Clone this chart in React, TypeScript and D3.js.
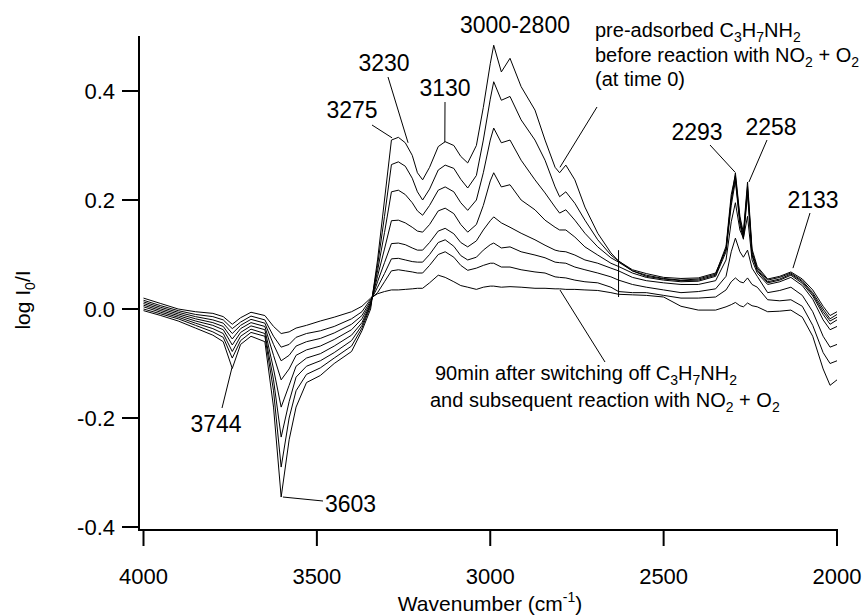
import React from "react";
import * as d3 from "d3";

// wavenumber grid (cm-1), shared by every spectrum
const wavenumbers = [
  4000, 3950, 3900, 3850, 3800, 3770, 3744, 3720, 3690, 3650,
  3625, 3603, 3580, 3560, 3530, 3490, 3450, 3400, 3370, 3345,
  3325, 3305, 3285, 3265, 3245, 3225, 3210, 3195, 3175, 3150,
  3130, 3105, 3085, 3065, 3040, 3020, 3000, 2990, 2968, 2943,
  2911, 2871, 2842, 2813, 2800, 2782, 2756, 2727, 2690, 2652,
  2630, 2590, 2550, 2500, 2450, 2400, 2350, 2320, 2305, 2293,
  2280, 2270, 2258, 2245, 2230, 2200, 2165, 2133, 2100, 2070,
  2040, 2020, 2000,
];

// time 0 (pre-adsorbed C3H7NH2)
const spectrum0 = [
  -0.003, -0.012, -0.022, -0.035, -0.048, -0.06, -0.109, -0.065, -0.05, -0.06,
  -0.18, -0.345, -0.24, -0.18, -0.135, -0.122, -0.1, -0.078, -0.04, 0.0,
  0.09, 0.2, 0.31, 0.315, 0.305, 0.282, 0.25, 0.237, 0.26, 0.298,
  0.307, 0.3, 0.28, 0.268, 0.3, 0.37, 0.45, 0.484, 0.435, 0.46,
  0.408, 0.365, 0.31, 0.26, 0.25, 0.264, 0.237, 0.187, 0.139, 0.103,
  0.088, 0.072, 0.065, 0.058, 0.056, 0.057, 0.066, 0.11, 0.2, 0.25,
  0.17, 0.14, 0.233, 0.11, 0.078, 0.055, 0.06, 0.068, 0.055, 0.035,
  0.005, -0.012, -0.005,
];
const spectrum1 = [
  0.0, -0.009, -0.018, -0.03, -0.042, -0.052, -0.09, -0.058, -0.043, -0.05,
  -0.15, -0.29, -0.2, -0.15, -0.12, -0.108, -0.09, -0.068, -0.035, 0.005,
  0.08, 0.17, 0.265, 0.27, 0.262, 0.24, 0.215, 0.2, 0.22, 0.255,
  0.264, 0.258, 0.238, 0.222, 0.245, 0.31, 0.385, 0.417, 0.383, 0.39,
  0.347, 0.31, 0.273, 0.224, 0.206, 0.215, 0.194, 0.163, 0.127, 0.099,
  0.088, 0.07, 0.062, 0.056, 0.053, 0.055, 0.064, 0.115, 0.21, 0.245,
  0.165, 0.135, 0.225, 0.105, 0.075, 0.053, 0.058, 0.066, 0.052, 0.03,
  0.0, -0.018, -0.01,
];
const spectrum2 = [
  0.004, -0.006, -0.015, -0.026, -0.036, -0.045, -0.078, -0.05, -0.037, -0.045,
  -0.13, -0.235, -0.17, -0.125, -0.105, -0.095, -0.08, -0.058, -0.03, 0.008,
  0.07, 0.14, 0.215, 0.218, 0.21, 0.195, 0.18, 0.172, 0.19, 0.218,
  0.224, 0.215, 0.195, 0.181, 0.2, 0.25, 0.31, 0.332, 0.305, 0.31,
  0.273, 0.237, 0.213, 0.187, 0.176, 0.182, 0.163, 0.139, 0.114, 0.094,
  0.086, 0.07, 0.06, 0.055, 0.052, 0.053, 0.062, 0.11, 0.2, 0.24,
  0.16, 0.132, 0.22, 0.1, 0.072, 0.05, 0.055, 0.064, 0.05, 0.027,
  -0.005, -0.022, -0.015,
];
const spectrum3 = [
  0.007, -0.003, -0.012, -0.022, -0.03, -0.038, -0.066, -0.043, -0.031, -0.038,
  -0.11, -0.18, -0.14, -0.105, -0.09, -0.082, -0.068, -0.048, -0.025, 0.01,
  0.06, 0.11, 0.162, 0.163, 0.158, 0.15, 0.143, 0.141, 0.155, 0.18,
  0.185, 0.175, 0.155, 0.141, 0.155, 0.19, 0.235, 0.25, 0.224, 0.228,
  0.2, 0.182, 0.163, 0.15, 0.145, 0.145, 0.132, 0.114, 0.099, 0.084,
  0.078, 0.066, 0.058, 0.053, 0.05, 0.051, 0.06, 0.105, 0.19, 0.235,
  0.155, 0.128, 0.21, 0.098, 0.07, 0.048, 0.053, 0.062, 0.047, 0.024,
  -0.01, -0.028, -0.02,
];
const spectrum4 = [
  0.01, 0.0, -0.009, -0.018, -0.025, -0.032, -0.055, -0.036, -0.025, -0.032,
  -0.085, -0.13, -0.11, -0.085, -0.075, -0.068, -0.056, -0.038, -0.018, 0.012,
  0.05, 0.085, 0.12, 0.121, 0.118, 0.112, 0.108, 0.108, 0.122, 0.143,
  0.148, 0.138, 0.122, 0.114, 0.125, 0.145, 0.162, 0.169, 0.158, 0.15,
  0.139, 0.127, 0.117, 0.108, 0.106, 0.105, 0.099, 0.09, 0.084, 0.075,
  0.07, 0.058, 0.052, 0.048, 0.045, 0.045, 0.052, 0.09, 0.16, 0.195,
  0.145, 0.13, 0.17, 0.09, 0.066, 0.045, 0.05, 0.058, 0.043, 0.018,
  -0.02, -0.038, -0.032,
];
const spectrum5 = [
  0.013, 0.003, -0.006, -0.014, -0.02, -0.026, -0.045, -0.03, -0.019, -0.026,
  -0.065, -0.095, -0.085, -0.068, -0.06, -0.054, -0.044, -0.028, -0.012, 0.015,
  0.04, 0.065, 0.092, 0.093, 0.09, 0.087, 0.086, 0.086, 0.1, 0.122,
  0.127, 0.115, 0.098, 0.09, 0.095, 0.108, 0.118, 0.121, 0.112, 0.114,
  0.105, 0.099, 0.094, 0.086, 0.085, 0.084, 0.077, 0.072, 0.066, 0.059,
  0.053, 0.045, 0.04, 0.035, 0.03, 0.032, 0.037, 0.06, 0.105, 0.13,
  0.105, 0.095, 0.108, 0.075, 0.06, 0.03, 0.034, 0.04, 0.025, -0.005,
  -0.05, -0.07, -0.065,
];
const spectrum6 = [
  0.016, 0.006, -0.003, -0.01, -0.014, -0.02, -0.036, -0.024, -0.013, -0.02,
  -0.05, -0.07, -0.065, -0.052, -0.045, -0.04, -0.032, -0.018, -0.005, 0.018,
  0.03, 0.05, 0.07, 0.072, 0.07, 0.068, 0.066, 0.066, 0.08, 0.1,
  0.105, 0.095, 0.08, 0.071, 0.075, 0.08, 0.084, 0.084, 0.077, 0.077,
  0.072, 0.068, 0.066, 0.059, 0.058, 0.057, 0.053, 0.05, 0.048, 0.04,
  0.032, 0.03, 0.03, 0.025, 0.02, 0.02, 0.022, 0.035, 0.05, 0.057,
  0.05, 0.048, 0.057, 0.045, 0.04, 0.017, 0.015, 0.017, 0.005, -0.03,
  -0.08, -0.1, -0.095,
];
// 90 min after switching off C3H7NH2
const spectrum7 = [
  0.02, 0.01, 0.0, -0.005, -0.008, -0.014, -0.028, -0.016, -0.006, -0.012,
  -0.032, -0.045, -0.042, -0.035, -0.03, -0.022, -0.015, -0.005, 0.005, 0.02,
  0.028, 0.032, 0.035, 0.035, 0.036, 0.037, 0.038, 0.038, 0.048, 0.062,
  0.058, 0.05, 0.043, 0.04, 0.036, 0.04, 0.042, 0.042, 0.04, 0.041,
  0.04, 0.038, 0.038, 0.037, 0.037, 0.036, 0.036, 0.035, 0.034, 0.03,
  0.027, 0.026, 0.025, 0.022, 0.005, -0.002, -0.002, 0.004, 0.008, 0.012,
  0.006, 0.004, 0.011, 0.006, 0.004, -0.005, -0.004, -0.002, -0.015, -0.05,
  -0.11, -0.14, -0.13,
];

const spectra = [spectrum0, spectrum1, spectrum2, spectrum3, spectrum4, spectrum5, spectrum6, spectrum7];

const xTicks = [4000, 3500, 3000, 2500, 2000];
const yTicks = [0.4, 0.2, 0.0, -0.2, -0.4];

// peak labels: text, and the point on the spectrum the leader line touches
const peakLabels = [
  { text: "3275", wn: 3283, v: 0.314 },
  { text: "3230", wn: 3237, v: 0.305 },
  { text: "3130", wn: 3131, v: 0.306 },
  { text: "2293", wn: 2294, v: 0.251 },
  { text: "2258", wn: 2254, v: 0.233 },
  { text: "2133", wn: 2127, v: 0.075 },
  { text: "3744", wn: 3745, v: -0.108 },
  { text: "3603", wn: 3598, v: -0.345 },
];
// cursor mark drawn by the instrument software
const cursorWn = 2630;
const cursorRange = [0.022, 0.108];

const FONT = "'Liberation Sans', Arial, Helvetica, sans-serif";

// where each label sits (px) and where its leader starts
const labelLayout: Record<string, { x: number; y: number; anchor: string; lx: number; ly: number }> = {
  "3275": { x: 352, y: 118, anchor: "middle", lx: 372, ly: 125 },
  "3230": { x: 384, y: 71, anchor: "middle", lx: 388, ly: 77 },
  "3130": { x: 445, y: 96, anchor: "middle", lx: 445, ly: 102 },
  "2293": { x: 697, y: 140, anchor: "middle", lx: 710, ly: 145 },
  "2258": { x: 771, y: 135, anchor: "middle", lx: 767, ly: 140 },
  "2133": { x: 813, y: 208, anchor: "middle", lx: 810, ly: 213 },
  "3744": { x: 216, y: 432, anchor: "middle", lx: 222, ly: 408 },
  "3603": { x: 325, y: 512, anchor: "start", lx: 323, ly: 501 },
};

type Part = [string, "n" | "sub" | "sup"];

// text with sub/superscripts, each part a tspan shifted from the baseline
function rich(parts: Part[], small = 14) {
  let level = 0;
  return parts.map(([t, kind], i) => {
    const target = kind === "sub" ? 5 : kind === "sup" ? -9 : 0;
    const dy = target - level;
    level = target;
    return (
      <tspan key={i} dy={dy} fontSize={kind === "n" ? undefined : small}>
        {t}
      </tspan>
    );
  });
}

export default function App() {
  const width = 868;
  const height = 616;
  const x = d3.scaleLinear().domain([4000, 2000]).range([143.5, 837]);
  const y = d3.scaleLinear().domain([-0.4, 0.5]).range([527, 36.5]);
  const axisX = 139;
  const axisY = 530;

  const line = d3
    .line<number>()
    .x((_, i) => x(wavenumbers[i]))
    .y((d) => y(d));

  return (
    <div style={{ position: "absolute", left: 0, top: 0 }}>
      <svg width={width} height={height} style={{ display: "block", background: "#fff" }} fontFamily={FONT}>
        {/* spectra */}
        <g fill="none" stroke="#000" strokeWidth={1}>
          {spectra.map((s, i) => (
            <path key={i} d={line(s) || ""} />
          ))}
          <line x1={x(cursorWn)} x2={x(cursorWn)} y1={y(cursorRange[0])} y2={y(cursorRange[1])} />
        </g>

        {/* axes */}
        <g stroke="#000" strokeWidth={2}>
          <line x1={axisX} x2={axisX} y1={36} y2={axisY + 1} />
          <line x1={axisX - 1} x2={x(2000) + 1} y1={axisY} y2={axisY} />
          {yTicks.map((t) => (
            <line key={t} x1={axisX - 17} x2={axisX} y1={y(t)} y2={y(t)} />
          ))}
          {xTicks.map((t) => (
            <line key={t} x1={x(t)} x2={x(t)} y1={axisY} y2={axisY + 16} />
          ))}
        </g>
        <g fontSize={22} fill="#000">
          {yTicks.map((t) => (
            <text key={t} x={axisX - 24} y={y(t) + 8} textAnchor="end">
              {t.toFixed(1)}
            </text>
          ))}
          {xTicks.map((t) => (
            <text key={t} x={x(t)} y={584} textAnchor="middle">
              {t}
            </text>
          ))}
        </g>

        {/* axis titles */}
        <text x={490} y={611} fontSize={21} textAnchor="middle">
          {rich([["Wavenumber (cm", "n"], ["-1", "sup"], [")", "n"]])}
        </text>
        <text transform="translate(30,300) rotate(-90)" fontSize={21} textAnchor="middle">
          {rich([["log I", "n"], ["0", "sub"], ["/I", "n"]])}
        </text>

        {/* peak labels */}
        <g fontSize={23} fill="#000">
          {peakLabels.map((p) => {
            const L = labelLayout[p.text];
            return (
              <g key={p.text}>
                <line x1={L.lx} y1={L.ly} x2={x(p.wn)} y2={y(p.v)} stroke="#000" strokeWidth={1} />
                <text x={L.x} y={L.y} textAnchor={L.anchor}>
                  {p.text}
                </text>
              </g>
            );
          })}
          <text x={515} y={33} textAnchor="middle">3000-2800</text>
        </g>

        {/* descriptive notes */}
        <g fontSize={20} fill="#000">
          <line x1={597} y1={107} x2={x(2799)} y2={y(0.26)} stroke="#000" strokeWidth={1} />
          <text x={595} y={37}>
            {rich([["pre-adsorbed C", "n"], ["3", "sub"], ["H", "n"], ["7", "sub"], ["NH", "n"], ["2", "sub"]])}
          </text>
          <text x={595} y={62}>
            {rich([["before reaction with NO", "n"], ["2", "sub"], [" + O", "n"], ["2", "sub"]])}
          </text>
          <text x={595} y={86}>(at time 0)</text>

          <line x1={x(2799)} y1={y(0.035)} x2={605} y2={362} stroke="#000" strokeWidth={1} />
          <text x={435} y={380}>
            {rich([["90min after switching off C", "n"], ["3", "sub"], ["H", "n"], ["7", "sub"], ["NH", "n"], ["2", "sub"]])}
          </text>
          <text x={430} y={407}>
            {rich([["and subsequent reaction with NO", "n"], ["2", "sub"], [" + O", "n"], ["2", "sub"]])}
          </text>
        </g>
      </svg>
    </div>
  );
}
